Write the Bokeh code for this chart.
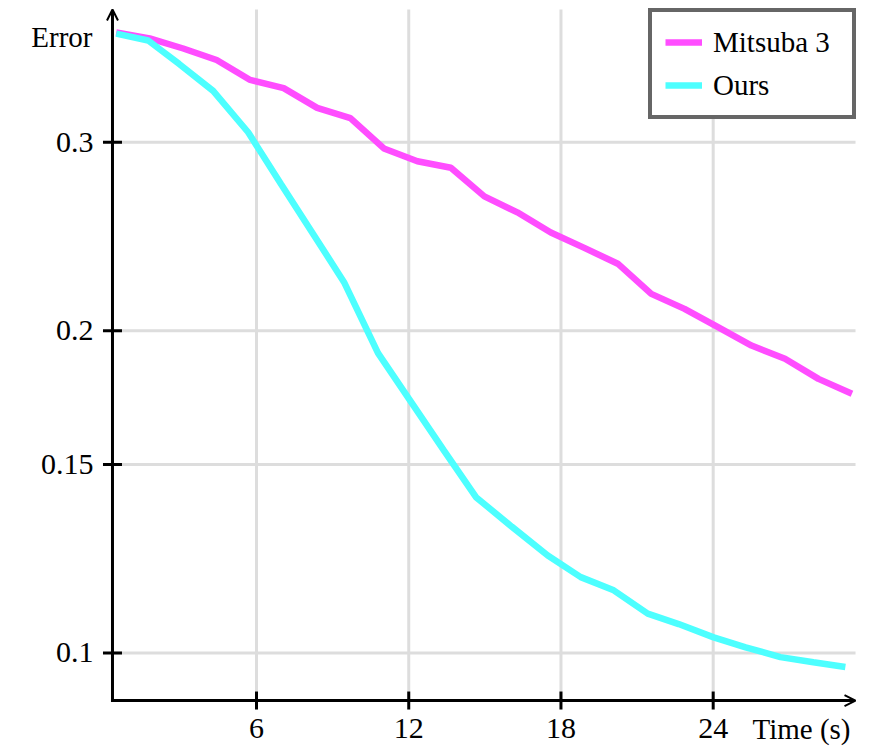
import math
from bokeh.plotting import figure
from bokeh.models import Range1d, Label, Arrow, OpenHead
from bokeh.core.properties import value
from bokeh.embed import file_html
from bokeh.resources import INLINE

# ---- data ----
mitsuba_t = [0.47, 1.79, 3.11, 4.43, 5.75, 7.07, 8.39, 9.70, 11.02, 12.34, 13.66,
             14.98, 16.28, 17.60, 18.92, 20.24, 21.56, 22.87, 24.19, 25.51, 26.83,
             28.15, 29.47]
mitsuba_err = [0.380, 0.375, 0.367, 0.358, 0.343, 0.337, 0.323, 0.316, 0.296, 0.288,
               0.284, 0.267, 0.258, 0.247, 0.239, 0.231, 0.2165, 0.2096, 0.2015,
               0.1937, 0.1883, 0.1803, 0.1746]

ours_t = [0.47, 1.73, 2.95, 4.29, 5.67, 6.97, 8.27, 9.45, 10.79, 12.09, 13.39, 14.65,
          16.06, 17.48, 18.78, 20.08, 21.42, 22.64, 24.02, 25.28, 26.65, 27.95, 29.21]
ours_err = [0.379, 0.3734, 0.355, 0.335, 0.3065, 0.274, 0.2455, 0.222, 0.1906, 0.1716,
            0.1545, 0.1398, 0.1312, 0.1233, 0.1177, 0.1144, 0.1088, 0.1064, 0.1034,
            0.1012, 0.0991, 0.0980, 0.0970]

x_ticks = [6, 12, 18, 24]
x_tick_labels = ["6", "12", "18", "24"]
y_ticks = [0.1, 0.15, 0.2, 0.3]
y_tick_labels = ["0.1", "0.15", "0.2", "0.3"]
series_names = ["Mitsuba 3", "Ours"]
x_label = "Time (s)"
y_label = "Error"

# axis extents (data units)
X0, X1 = 0.323, 29.61
Y0, Y1 = 0.09026, 0.39912
# visible window (whole canvas)
XL, XR = -4.091, 30.437
YB, YT = 0.08176, 0.40693

SERIF = "Liberation Serif"
MAGENTA = "#ff4dff"
CYAN = "#4dffff"
GRID = "#dddddd"

p = figure(width=876, height=746, x_range=Range1d(XL, XR), y_range=Range1d(YB, YT),
           y_axis_type="log", x_axis_location=None, y_axis_location=None,
           output_backend="svg", toolbar_location=None, min_border=0)
p.outline_line_color = None
p.background_fill_color = "white"
p.border_fill_color = "white"
for g in p.grid:
    g.visible = False

nx, ny = len(x_ticks), len(y_ticks)
# grid lines, limited to the axis box
p.segment(x0=x_ticks, y0=[Y0] * nx, x1=x_ticks, y1=[Y1] * nx,
          line_color=GRID, line_width=3)
p.segment(x0=[X0] * ny, y0=y_ticks, x1=[X1] * ny, y1=y_ticks,
          line_color=GRID, line_width=3)

# data lines
p.line(mitsuba_t, mitsuba_err, line_color=MAGENTA, line_width=6.5,
       legend_label=series_names[0])
p.line(ours_t, ours_err, line_color=CYAN, line_width=6.5,
       legend_label=series_names[1])

# axes with arrow heads
p.add_layout(Arrow(x_start=X0, y_start=Y0, x_end=X0, y_end=Y1, line_width=3,
                   line_color="black", line_cap="square",
                   end=OpenHead(size=11, line_width=2, line_color="black")))
p.add_layout(Arrow(x_start=X0, y_start=Y0, x_end=X1, y_end=Y0, line_width=3,
                   line_color="black", line_cap="square",
                   end=OpenHead(size=11, line_width=2, line_color="black")))

# tick marks
p.scatter(x=x_ticks, y=[Y0] * nx, marker="dash", angle=math.pi / 2, size=18,
          line_color="black", line_width=3)
p.scatter(x=[X0] * ny, y=y_ticks, marker="dash", size=19,
          line_color="black", line_width=3)

# tick labels
p.text(x=x_ticks, y=[Y0] * nx, text=x_tick_labels, text_align="center",
       text_baseline="alphabetic", y_offset=28, text_font=value(SERIF),
       text_font_size="30px", text_color="black")
p.text(x=[X0] * ny, y=y_ticks, text=y_tick_labels, text_align="right",
       text_baseline="alphabetic", x_offset=-19, y_offset=0, text_font=value(SERIF),
       text_font_size="30px", text_color="black")

# axis labels
p.add_layout(Label(x=X0, y=Y1, x_offset=-20, y_offset=-27, text=y_label,
                   text_align="right", text_baseline="alphabetic",
                   text_font=SERIF, text_font_size="29px", text_color="black"))
p.add_layout(Label(x=X1, y=Y0, x_offset=-5, y_offset=-28, text=x_label,
                   text_align="right", text_baseline="alphabetic",
                   text_font=SERIF, text_font_size="29px", text_color="black"))

# legend
lg = p.legend[0]
lg.location = (648, 627)
lg.margin = 0
lg.padding = 13
lg.spacing = 9
lg.glyph_width = 37
lg.glyph_height = 34
lg.label_height = 34
lg.label_width = 126
lg.label_standoff = 11
lg.border_line_color = "#666666"
lg.border_line_alpha = 1
lg.border_line_width = 4
lg.background_fill_color = "white"
lg.background_fill_alpha = 1
lg.label_text_font = SERIF
lg.label_text_font_size = "29px"
lg.label_text_color = "black"

open("out.html", "w").write(file_html(p, INLINE))
